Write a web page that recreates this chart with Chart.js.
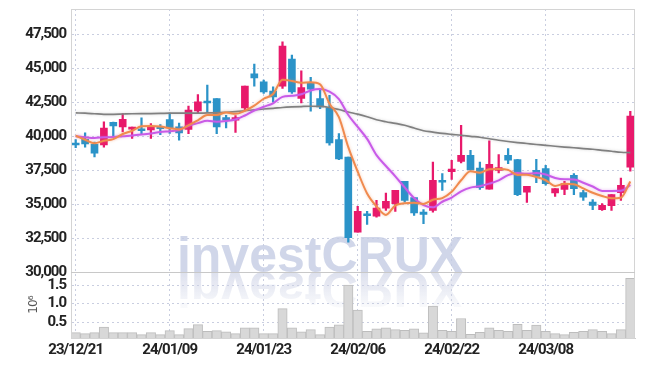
<!DOCTYPE html>
<html><head><meta charset="utf-8">
<script src="https://cdn.jsdelivr.net/npm/chart.js@4.4.1/dist/chart.umd.min.js"></script>
<style>html,body{margin:0;padding:0;background:#fff;}#wrap{width:645px;height:366px;}</style>
</head><body><div id="wrap"><canvas id="c" width="645" height="366"></canvas></div>
<script>
const dates = ['23/12/21','23/12/22','23/12/26','23/12/27','23/12/28','24/01/02','24/01/03','24/01/04','24/01/05','24/01/08',
 '24/01/09','24/01/10','24/01/11','24/01/12','24/01/15','24/01/16','24/01/17','24/01/18','24/01/19','24/01/22',
 '24/01/23','24/01/24','24/01/25','24/01/26','24/01/29','24/01/30','24/01/31','24/02/01','24/02/02','24/02/05',
 '24/02/06','24/02/07','24/02/08','24/02/13','24/02/14','24/02/15','24/02/16','24/02/19','24/02/20','24/02/21',
 '24/02/22','24/02/23','24/02/26','24/02/27','24/02/28','24/02/29','24/03/04','24/03/05','24/03/06','24/03/07',
 '24/03/08','24/03/11','24/03/12','24/03/13','24/03/14','24/03/15','24/03/18','24/03/19','24/03/20','24/03/21'];
const opens = [39500,39770,39400,39350,41020,40680,40510,40500,40460,40660,
 41220,40680,40490,41860,42550,42770,41370,41170,42080,44580,
 43990,43310,43680,45660,42770,43920,42770,42110,39750,38470,
 32950,34300,34120,34710,35040,36680,35480,34420,34540,36750,
 37390,38150,38590,37660,36110,37490,38590,38280,35890,37490,
 37610,35820,36090,37120,35850,35150,34600,34890,35850,37730];
const highs = [39750,40250,39570,41050,41030,41660,40660,41340,40930,40860,
 41700,40970,42220,43060,43750,42770,41540,41520,43680,45300,
 44120,43620,46940,45960,44800,44320,43380,43010,40190,38470,
 34840,34470,35280,35820,36020,36680,35480,34600,38100,37250,
 38230,40800,38960,38100,39650,38650,39090,38300,36310,38300,
 37860,36140,36680,37250,36020,35330,35040,35700,36920,41830];
const lows = [39150,39200,38470,39200,39950,40310,39830,40120,39830,40120,
 40200,39700,40190,41710,41780,40190,40600,40270,41900,43680,
 43140,42520,43510,43140,42450,41830,42030,39330,38280,32210,
 32950,33510,34050,34540,34470,35150,34180,33560,34420,36020,
 36830,38030,37490,36090,36110,37290,37980,35630,35130,36580,
 36390,35570,35700,35700,35280,34600,34540,34540,35280,37420];
const closes = [39350,39430,38760,40600,40750,41245,40660,40400,40680,40560,
 40630,40240,41910,42520,42440,40680,41170,41370,43680,44290,
 43260,42890,46620,43260,43580,43450,42150,39500,38320,32530,
 34470,34150,34710,35210,36020,35280,34350,34250,36750,36610,
 37590,38590,37540,36220,37930,37690,38230,35700,36310,37050,
 36510,36140,36510,36140,35520,34910,34910,35700,36380,41470];
const ma5 = [40030,39740,39480,39660,39780,40160,40400,40730,40750,40710,
 40590,40500,40800,41170,41550,41560,41740,41640,41870,42240,
 42750,43100,44150,44060,43920,43960,43810,42390,41400,39190,
 37390,35790,34840,34210,34910,35070,35110,35020,35330,35450,
 35910,36760,37420,37310,37570,37590,37520,37150,37170,37000,
 36760,36340,36500,36470,36160,35840,35600,35440,35480,36670];
const ma10 = [40000,39920,39870,39920,39940,40000,40050,40120,40200,40300,
 40370,40450,40770,40960,41130,41070,41120,41220,41520,41890,
 42160,42420,42890,42970,43080,43360,43460,43270,42730,41560,
 40680,39800,38610,37810,37050,36230,35450,34930,34770,35180,
 35490,35940,36220,36320,36510,36750,37140,37290,37240,37290,
 37180,36930,36830,36820,36580,36300,35970,35970,35980,36420];
const maLong = [41710,41690,41650,41610,41610,41630,41650,41660,41660,41670,
 41690,41690,41690,41690,41710,41720,41760,41810,41870,41940,
 42000,42050,42110,42150,42180,42200,42190,42110,41960,41780,
 41620,41430,41210,41060,40940,40800,40600,40400,40300,40200,
 40130,40070,39990,39920,39810,39700,39610,39530,39460,39390,
 39330,39260,39200,39150,39090,39040,38960,38890,38820,38790];
const volumes = [0.21,0.185,0.21,0.365,0.21,0.21,0.21,0.155,0.21,0.155,
 0.265,0.155,0.32,0.43,0.245,0.265,0.235,0.185,0.345,0.345,
 0.185,0.185,0.865,0.345,0.235,0.295,0.155,0.365,0.425,1.505,
 0.825,0.245,0.315,0.345,0.295,0.275,0.315,0.205,0.935,0.275,
 0.245,0.595,0.165,0.22,0.345,0.275,0.245,0.435,0.275,0.415,
 0.245,0.185,0.155,0.22,0.245,0.295,0.245,0.185,0.295,1.685];
const priceTicks = [30000,32500,35000,37500,40000,42500,45000,47500];
const volTicks = [0.5,1.0,1.5];
const labelEvery = 10;

const UP = '#e8196b', DOWN = '#2b93c8';
const candleColors = opens.map((o,i)=> closes[i] >= o ? UP : DOWN);
const FONT = "Roboto,'DejaVu Sans Condensed',sans-serif";
const GRID = '#c9cee0';

const tight = {
  id:'tight',
  beforeDraw(chart){ chart.ctx.letterSpacing = '-1px'; },
  afterDraw(chart){ chart.ctx.letterSpacing = '0px'; }
};
const watermark = {
  id:'wm',
  beforeDatasetsDraw(chart){
    const ctx = chart.ctx, baseY = chart.scales.y.bottom, cx = 320;
    ctx.save();
    ctx.letterSpacing = '0px';
    ctx.font = "bold 50px 'Liberation Sans', Arial, sans-serif";
    ctx.textAlign = 'center'; ctx.textBaseline = 'alphabetic';
    ctx.fillStyle = 'rgba(196,204,228,0.8)';
    ctx.fillText('investCRUX', cx, baseY);
    ctx.translate(0, baseY*2); ctx.scale(1,-1);
    const g = ctx.createLinearGradient(0, baseY, 0, baseY-42);
    g.addColorStop(0,'rgba(206,211,230,0.7)'); g.addColorStop(1,'rgba(206,211,230,0)');
    ctx.fillStyle = g; ctx.fillText('investCRUX', cx, baseY);
    ctx.restore();
  }
};
const frame = {
  id:'frame',
  afterDatasetsDraw(chart){
    const {ctx, chartArea:a} = chart;
    ctx.save();
    ctx.strokeStyle = '#d4d4d4'; ctx.lineWidth = 1;
    ctx.strokeRect(a.left+0.5, a.top+0.5, a.right-a.left-1, a.bottom-a.top);
    const yb = Math.round(chart.scales.y.bottom)+0.5;
    ctx.strokeStyle = '#c8c8c8';
    ctx.beginPath(); ctx.moveTo(a.left, yb); ctx.lineTo(a.right, yb); ctx.stroke();
    ctx.restore();
  }
};
const halo = {
  id:'halo',
  beforeDatasetDraw(chart, args){
    if (args.meta.type !== 'line') return;
    const c = chart.ctx; c.save();
    c.shadowColor = args.meta._dataset.haloColor; c.shadowBlur = 3;
  },
  afterDatasetDraw(chart, args){ if (args.meta.type === 'line') chart.ctx.restore(); }
};

new Chart(document.getElementById('c'), {
  type:'bar',
  data:{
    labels: dates,
    datasets:[
      {type:'line', data: ma5, borderColor:'#f08a4e', haloColor:'rgba(240,138,78,0.45)', borderWidth:2, pointRadius:0, cubicInterpolationMode:'monotone', yAxisID:'y', order:0},
      {type:'line', data: ma10, borderColor:'#c95be8', haloColor:'rgba(201,91,232,0.45)', borderWidth:2, pointRadius:0, cubicInterpolationMode:'monotone', yAxisID:'y', order:0},
      {type:'line', data: maLong, borderColor:'#808080', haloColor:'rgba(128,128,128,0.35)', borderWidth:1.7, pointRadius:0, cubicInterpolationMode:'monotone', yAxisID:'y', order:0},
      {data: lows.map((l,i)=>[l, highs[i]]), backgroundColor: candleColors, barThickness:1.6, grouped:false, yAxisID:'y', order:2},
      {data: opens.map((o,i)=>[o, closes[i]]), backgroundColor: candleColors, barThickness:7, minBarLength:2, grouped:false, yAxisID:'y', order:1},
      {data: volumes, backgroundColor:'#d8d8d8', borderColor:'#bdbdbd', borderWidth:1, barPercentage:1, categoryPercentage:1, grouped:false, yAxisID:'yv', order:3}
    ]
  },
  options:{
    responsive:false, animation:false,
    layout:{padding:{top:9, right:10, left:0, bottom:0}},
    plugins:{legend:{display:false}, tooltip:{enabled:false}},
    scales:{
      x:{
        grid:{offset:false, color:GRID, drawTicks:false},
        border:{color:'#cccccc', dash:[2,3]},
        ticks:{autoSkip:false, maxRotation:0, padding:3, color:'#222', font:{family:FONT, size:15, weight:'bold'},
          callback:(v,i)=> i % labelEvery === 0 ? dates[i] : null},
        afterFit:s=>{ s.height = 28; s.paddingLeft = 0; s.paddingRight = 0; }
      },
      yv:{
        position:'left', stack:'p', stackWeight:1, min:0.065, max:1.855,
        afterBuildTicks:s=>{ s.ticks = volTicks.map(v=>({value:v})); },
        grid:{color:GRID, drawTicks:false},
        border:{color:'#bbbbbb', dash:[2,3]},
        ticks:{autoSkip:false, padding:5, color:'#222', font:{family:FONT, size:15, weight:'bold'},
          callback:v=> v.toFixed(1)},
        title:{display:true, text:'10⁶', color:'#555', font:{family:"'DejaVu Sans',sans-serif", size:12}, padding:{top:27,bottom:0}},
        afterFit:s=>{ s.width = 71; s.paddingTop = 0; s.paddingBottom = 0; }
      },
      y:{
        position:'left', stack:'p', stackWeight:4, min:30000, max:49350,
        afterBuildTicks:s=>{ s.ticks = priceTicks.map(v=>({value:v})); },
        grid:{color:GRID, drawTicks:false},
        border:{color:'#bbbbbb', dash:[2,3]},
        ticks:{autoSkip:false, padding:5, color:'#222', font:{family:FONT, size:15, weight:'bold'},
          callback:v=> v.toLocaleString('en-US')},
        afterFit:s=>{ s.width = 71; s.paddingTop = 0; s.paddingBottom = 0; }
      }
    }
  },
  plugins:[tight, watermark, frame, halo]
});
</script>
</body></html>
